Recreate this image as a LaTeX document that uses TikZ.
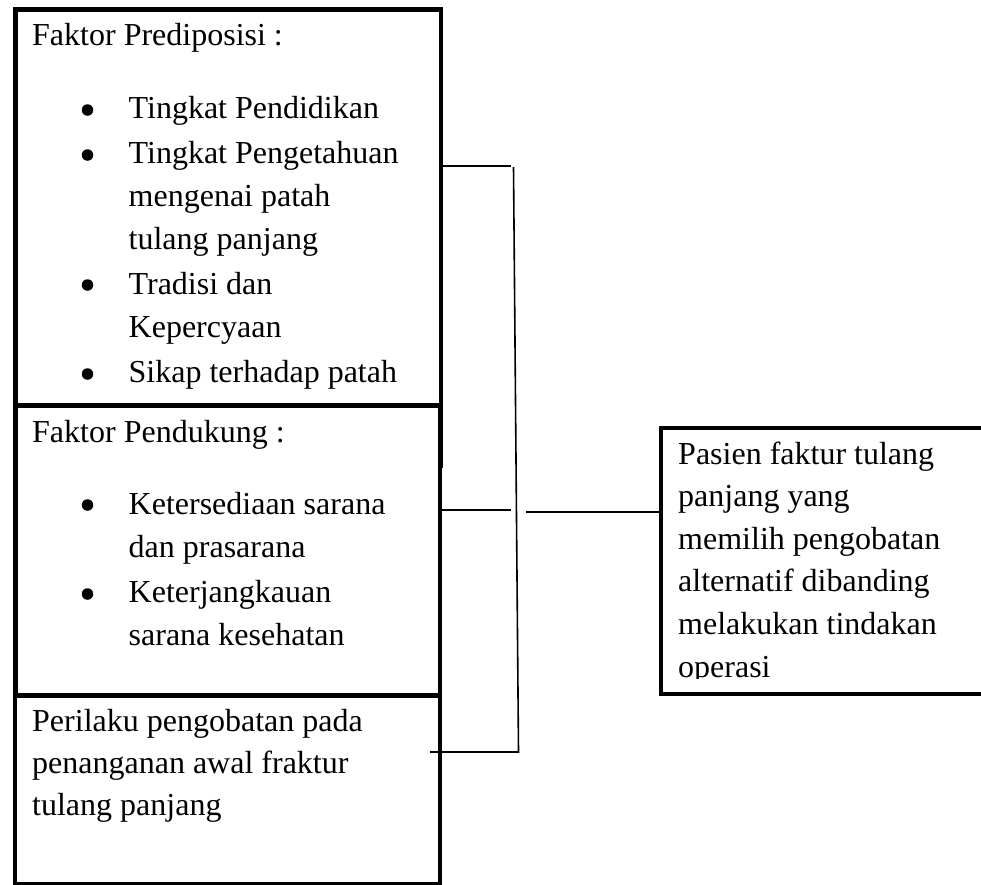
\documentclass[tikz,border=0pt]{standalone}
\usepackage{fontspec}
\setmainfont{Liberation Serif}
\usepackage{tikz}
\tikzstyle{canvas} = [x = 1pt, y = -1pt]
\tikzstyle{boxStyle} = [rectangle, draw=black, fill=white, line width=4.5pt, inner sep=0pt, anchor=north west]
\tikzstyle{connector} = [color=black, line width=1.6pt]
\tikzstyle{lineText} = [anchor=base west, inner sep=0pt, align=left]
\tikzstyle{bulletDot} = [circle, fill=black, inner sep=0pt, minimum size=11.5pt]
\newcommand{\bodyFont}{\fontsize{32}{43}\selectfont}
\newcommand{\tightFont}{\fontsize{32}{42}\selectfont}
\newcommand{\outFont}{\fontsize{32}{42.6}\selectfont}
% a box, given by its top left corner, width and height
\newcommand{\factorBox}[5]{\node [boxStyle, minimum width=#4pt, minimum height=#5pt] (#1) at (#2,#3) {};}
\newcommand{\boxHead}[3]{\node [lineText, font=\bodyFont] (#1) at (32,#2) {#3};}
% #2 = baseline of the first line, #3 = baseline of the last line
\newcommand{\bulletItem}[4]{
  \node [bulletDot] (#1Dot) at (87.5,#2 - 8) {};
  \node [lineText, font=\bodyFont] (#1) at (128.5,#3) {#4};
}

\begin{document}
\begin{tikzpicture}[canvas]
  \useasboundingbox (0,0) rectangle (981,884);
  % boxes
  \factorBox{predBox}{13}{7}{425.5}{456}
  \factorBox{supportBox}{13}{403}{424.5}{290}
  \factorBox{behaviourBox}{12.5}{693}{425}{189}
  \factorBox{outcomeBox}{658.5}{425.5}{340}{266}
  % predisposing factors
  \boxHead{predHead}{45}{Faktor Prediposisi :}
  \bulletItem{eduItem}{118}{118}{Tingkat Pendidikan}
  \bulletItem{knowItem}{163}{249}{Tingkat Pengetahuan\\mengenai patah\\tulang panjang}
  \bulletItem{tradItem}{293}{337}{Tradisi dan\\Kepercyaan}
  \bulletItem{attItem}{382}{382}{Sikap terhadap patah}
  % supporting factors
  \boxHead{supportHead}{442}{Faktor Pendukung :}
  \bulletItem{facItem}{513}{557}{Ketersediaan sarana\\dan prasarana}
  \bulletItem{reachItem}{602}{645}{Keterjangkauan\\sarana kesehatan}
  % behaviour
  \node [lineText, font=\tightFont] (behaviourText) at (32,815)
    {Perilaku pengobatan pada\\penanganan awal fraktur\\tulang panjang};
  % outcome, cut off by the bottom of its box
  \begin{scope}
    \clip (661,428) rectangle (981,678);
    \node [lineText, font=\outFont] (outcomeText) at (678,677)
      {Pasien faktur tulang\\panjang yang\\memilih pengobatan\\alternatif dibanding\\melakukan tindakan\\operasi};
  \end{scope}
  % connectors
  \coordinate (stubTop) at (511,166);
  \coordinate (stubMid) at (511,510);
  \coordinate (stubOut) at (526,512);
  \coordinate (stubLow) at (430,752);
  \coordinate (busTop) at (513.5,167);
  \coordinate (busBottom) at (518.5,752);
  \draw [connector] (stubTop -| predBox.east) -- (stubTop);
  \draw [connector] (stubMid -| supportBox.east) -- (stubMid);
  \draw [connector] (busTop) -- (busBottom) -- (stubLow);
  \draw [connector] (stubOut) -- (stubOut -| outcomeBox.west);
\end{tikzpicture}
\end{document}
